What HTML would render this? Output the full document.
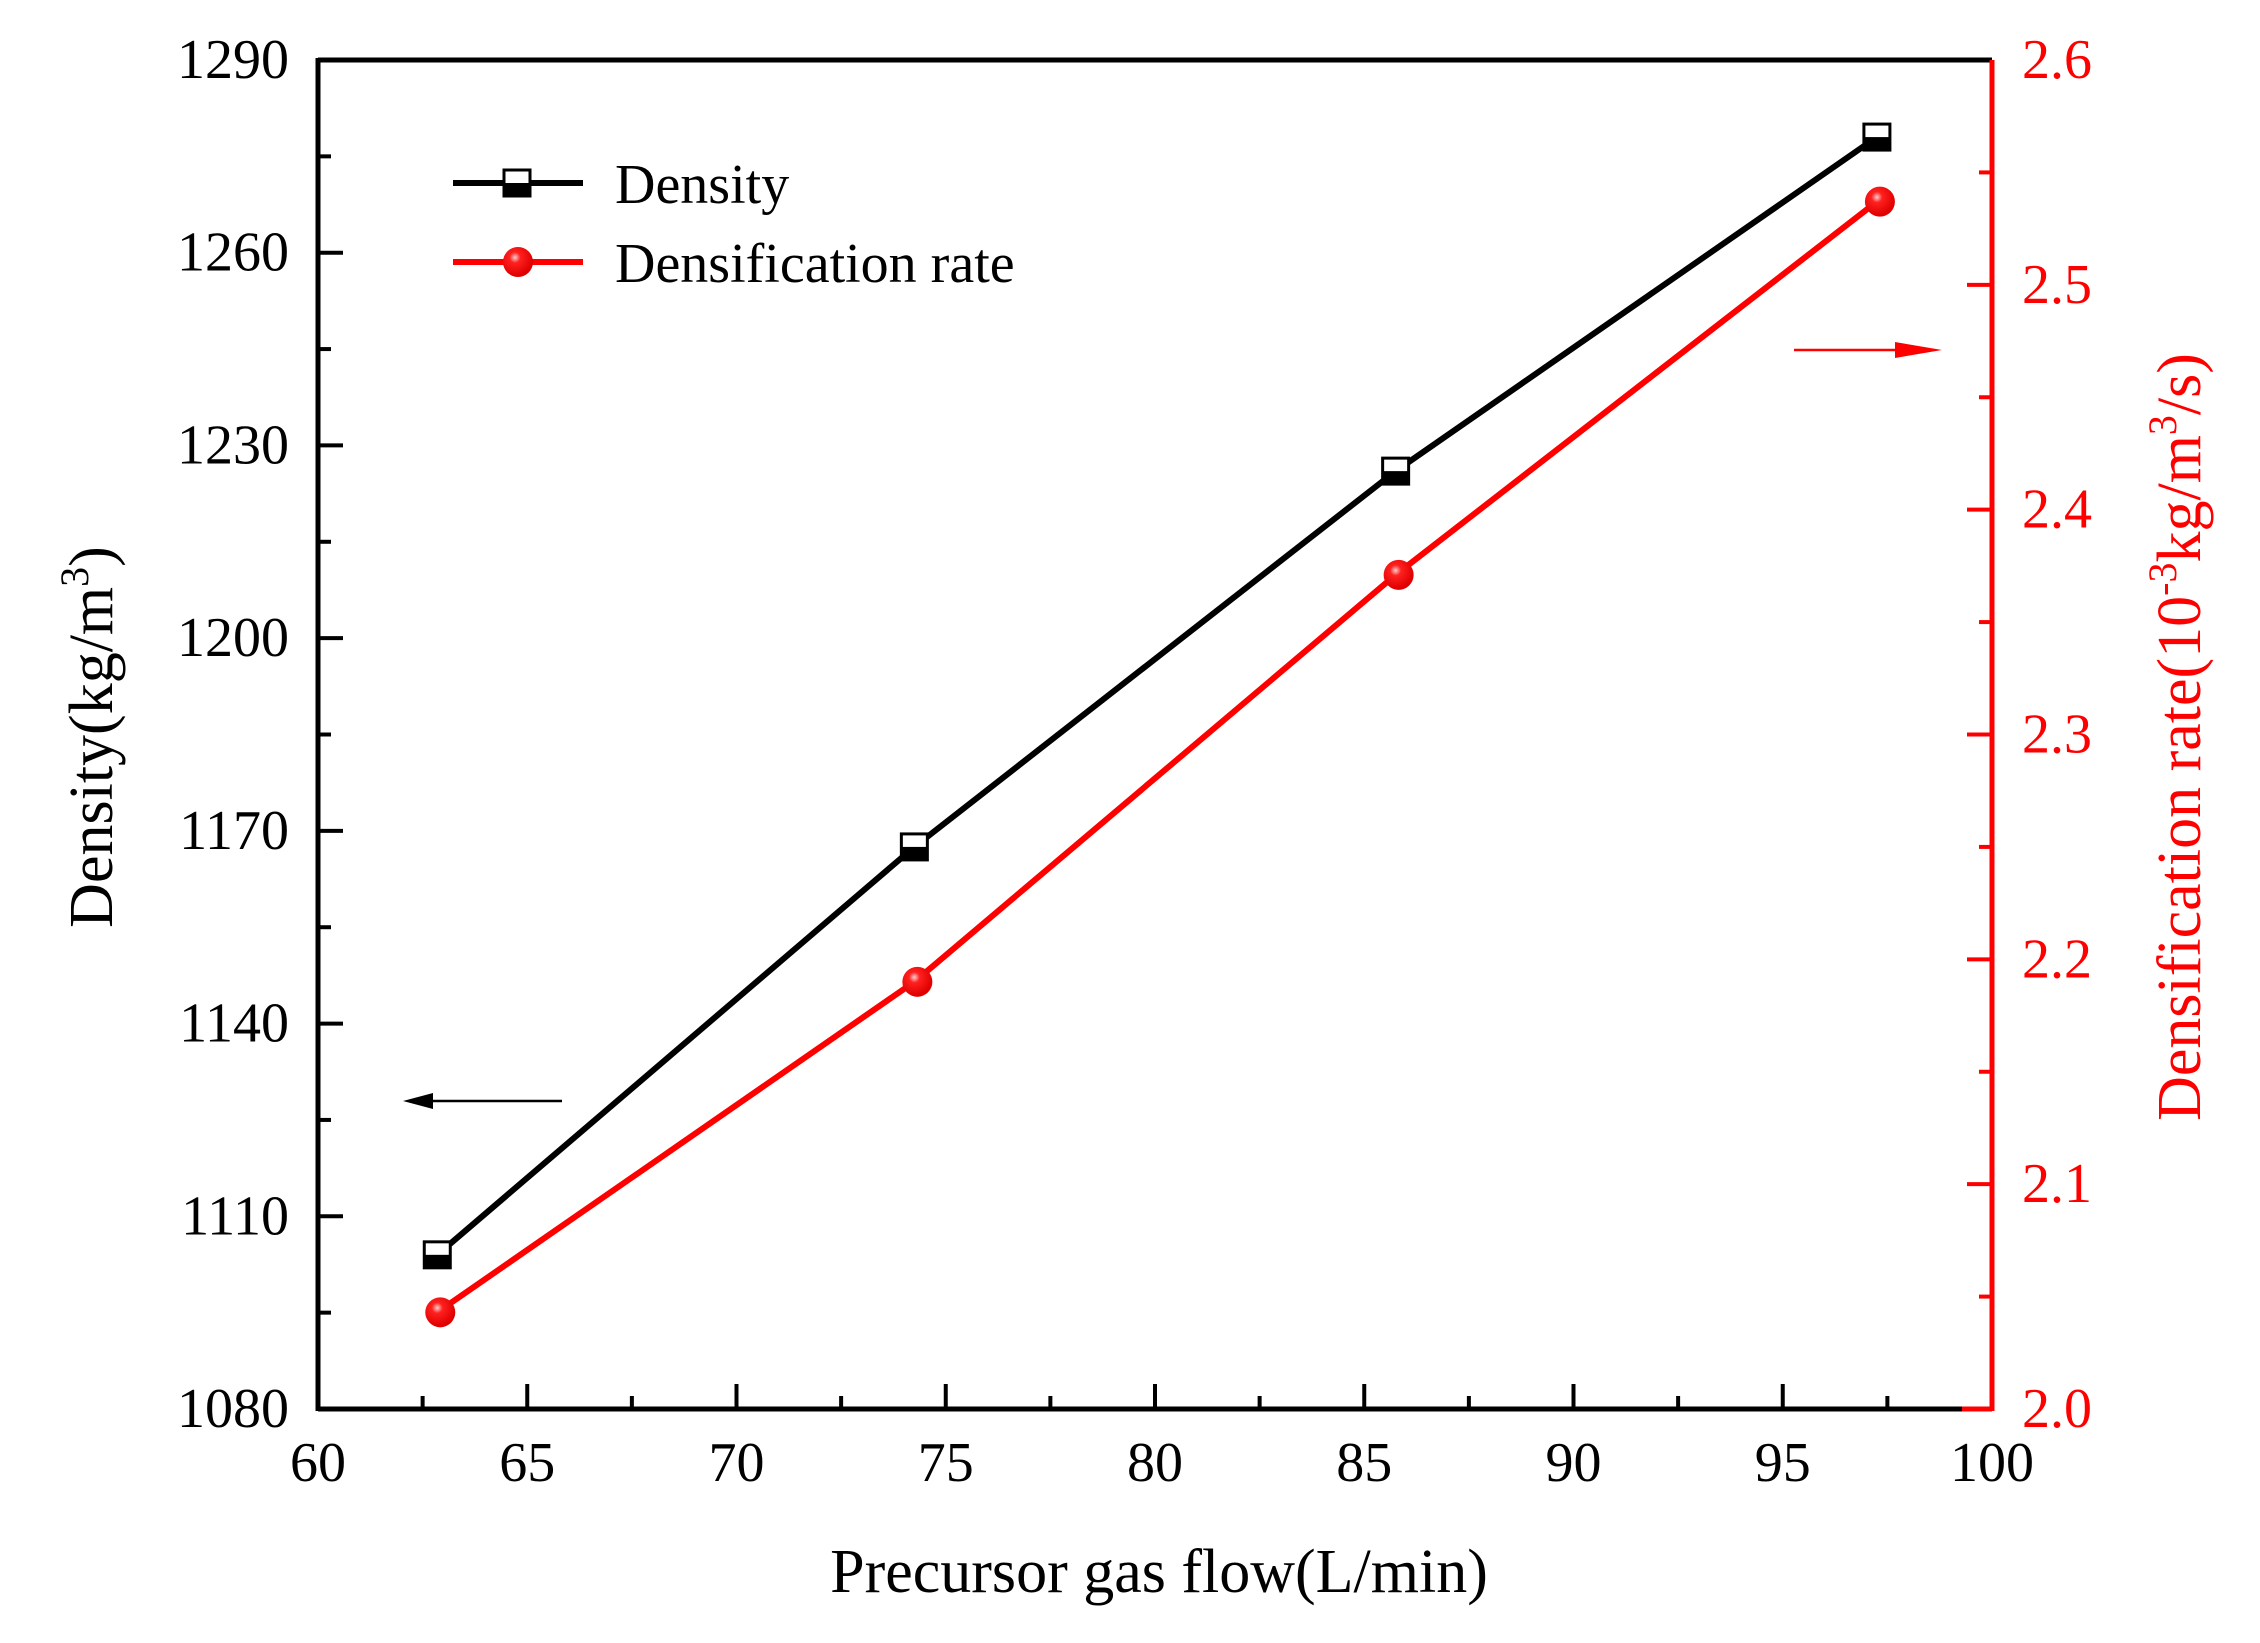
<!DOCTYPE html>
<html><head><meta charset="utf-8"><style>
html,body{margin:0;padding:0;background:#fff;}
svg{display:block;font-family:"Liberation Serif",serif;}
</style></head><body>
<svg id="s" width="2260" height="1643" xmlns="http://www.w3.org/2000/svg">
<defs>
<radialGradient id="g" cx="0.4" cy="0.35" r="0.6">
<stop offset="0" stop-color="#ffd0d0"/><stop offset="0.3" stop-color="#ff2020"/><stop offset="1" stop-color="#e00000"/>
</radialGradient>
</defs>
</svg>
<script>
const s=document.getElementById('s');
const NS='http://www.w3.org/2000/svg';
function el(t,a,txt){const e=document.createElementNS(NS,t);for(const k in a)e.setAttribute(k,a[k]);if(txt!==undefined)e.textContent=txt;s.appendChild(e);return e;}
const L=318,R=1992,T=60,B=1409;
const X=v=>L+(v-60)*(R-L)/40;
const YL=v=>B-(v-1080)*(B-T)/210;
const YR=v=>B-(v-2.0)*(B-T)/0.6;
for(let v=60;v<=100;v+=2.5){const maj=(v%5===0);const x=X(v);
 if(v>60&&v<100) el('line',{x1:x,y1:B,x2:x,y2:B-(maj?25:13),stroke:'#000','stroke-width':4});
 if(maj) el('text',{x:x,y:1481,'font-size':56,'text-anchor':'middle',fill:'#000'},String(v));}
for(let v=1080;v<=1290;v+=15){const maj=((v-1080)%30===0);const y=YL(v);
 if(v>1080&&v<1290) el('line',{x1:L,y1:y,x2:L+(maj?25:13),y2:y,stroke:'#000','stroke-width':4});
 if(maj) el('text',{x:289,y:y+18,'font-size':56,'text-anchor':'end',fill:'#000'},String(v));}
for(let i=0;i<=12;i++){const v=2.0+i*0.05;const maj=(i%2===0);const y=YR(v);
 if(i>0&&i<12) el('line',{x1:R,y1:y,x2:R-(maj?25:13),y2:y,stroke:'#f00','stroke-width':4});
 if(maj) el('text',{x:2022,y:y+18,'font-size':56,'text-anchor':'start',fill:'#f00'},v.toFixed(1));}
el('line',{x1:L,y1:T,x2:R,y2:T,stroke:'#000','stroke-width':5});
el('line',{x1:L,y1:T-2,x2:L,y2:B+2,stroke:'#000','stroke-width':5});
el('line',{x1:L,y1:B,x2:1962,y2:B,stroke:'#000','stroke-width':5});
el('line',{x1:1962,y1:B,x2:R,y2:B,stroke:'#f00','stroke-width':5});
el('line',{x1:R,y1:T,x2:R,y2:B+2,stroke:'#f00','stroke-width':5});
const xs=[62.85,74.25,85.75,97.25];
const d=[1104,1167.5,1226,1278];
const r=[2.043,2.19,2.371,2.537];
el('polyline',{points:xs.map((x,i)=>X(x)+','+YL(d[i])).join(' '),fill:'none',stroke:'#000','stroke-width':6});
el('polyline',{points:xs.map((x,i)=>X(x)+','+YR(r[i])).join(' '),fill:'none',stroke:'#f00','stroke-width':6});
function sq(cx,cy){el('rect',{x:cx-13,y:cy-13,width:26,height:26,fill:'#fff',stroke:'#000','stroke-width':3});
 el('rect',{x:cx-13,y:cy,width:26,height:13,fill:'#000'});}
function ci(cx,cy){el('circle',{cx:cx,cy:cy,r:15,fill:'url(#g)'});}
xs.forEach((x,i)=>sq(X(x),YL(d[i])));
xs.forEach((x,i)=>ci(X(x)+3,YR(r[i])));
el('line',{x1:453,y1:183,x2:583,y2:183,stroke:'#000','stroke-width':6});sq(517,183);
el('text',{x:615,y:203,'font-size':56,fill:'#000'},'Density');
el('line',{x1:453,y1:262,x2:583,y2:262,stroke:'#f00','stroke-width':6});ci(518,262);
el('text',{x:615,y:282,'font-size':56,fill:'#000'},'Densification rate');
el('line',{x1:562,y1:1101,x2:425,y2:1101,stroke:'#000','stroke-width':2.5});
el('polygon',{points:'403,1101 433,1093 433,1109',fill:'#000'});
el('line',{x1:1794,y1:350,x2:1915,y2:350,stroke:'#f00','stroke-width':2.5});
el('polygon',{points:'1942,350 1895,342 1895,358',fill:'#f00'});
el('text',{x:1159,y:1592,'font-size':62,'text-anchor':'middle',fill:'#000'},'Precursor gas flow(L/min)');
const t1=el('text',{transform:'translate(112,737) rotate(-90)','font-size':62,'text-anchor':'middle',fill:'#000'});
t1.innerHTML='Density(kg/m<tspan dy="-24" font-size="40">3</tspan><tspan dy="24">)</tspan>';
const t2=el('text',{transform:'translate(2200,737) rotate(-90)','font-size':62,'text-anchor':'middle',fill:'#f00'});
t2.innerHTML='Densification rate(10<tspan dy="-24" font-size="40">-3</tspan><tspan dy="24">kg/m</tspan><tspan dy="-24" font-size="40">3</tspan><tspan dy="24">/s)</tspan>';
</script>
</body></html>
